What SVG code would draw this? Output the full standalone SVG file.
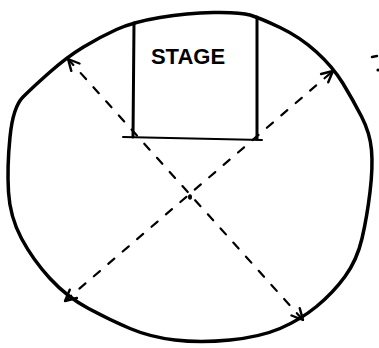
<svg xmlns="http://www.w3.org/2000/svg" width="379" height="348" viewBox="0 0 379 348">
<style>
.outline{fill:none;stroke:#000;stroke-width:3.5;stroke-linejoin:round;stroke-linecap:round}
.wall{fill:none;stroke:#000;stroke-width:3;stroke-linecap:round}
.floor{fill:none;stroke:#000;stroke-width:2;stroke-linecap:round}
.dash{fill:none;stroke:#000;stroke-width:2.2;stroke-dasharray:8 11;stroke-linecap:round}
.label{font-family:"Liberation Sans",Arial,sans-serif;font-weight:bold;font-size:22px;fill:#000}
</style>
<defs>
<marker id="arr" viewBox="0 0 14 14" refX="13" refY="7" markerWidth="14" markerHeight="14" markerUnits="userSpaceOnUse" orient="auto-start-reverse">
<path d="M2,1.5 L13,7 L2,12.5" fill="none" stroke="#000" stroke-width="2.4" stroke-linecap="round" stroke-linejoin="round"/>
</marker>
</defs>
<rect width="379" height="348" fill="#fff"/>
<g id="hall">
<path class="outline" d="M160,17.5 Q187,13 213.5,12.5 Q240,12 250,15 Q260,18 280,27.5 Q300,37 316.5,52 Q333,67 343,83.5 Q353,100 361.5,116.5 Q370,133 371.5,150 Q373,167 370,192 Q367,217 362,238.5 Q357,260 345,276.5 Q333,293 316.5,306.5 Q300,320 280,328.5 Q260,337 230,340 Q200,343 175,340 Q150,337 130,328.5 Q110,320 88.5,308.5 Q67,297 50,278.5 Q33,260 21.5,238.5 Q10,217 8.5,192 Q7,167 10,137 Q13,107 23,97 Q33,87 50,72 Q67,57 83.5,47 Q100,37 116.5,29.5 Q133,22 160,17.5 Z"/>
</g>
<g id="stage">
<path class="wall" d="M134,23 L133,137"/>
<path class="wall" d="M257,17 L257,139"/>
<path class="floor" d="M123,137 L262,140"/>
<text class="label" x="188" y="64" text-anchor="middle">STAGE</text>
</g>
<g id="connectors">
<line class="dash" x1="68" y1="59" x2="303" y2="320" marker-start="url(#arr)" marker-end="url(#arr)"/>
<line class="dash" x1="65" y1="301" x2="333" y2="71" marker-start="url(#arr)" marker-end="url(#arr)"/>
</g>
<g id="center">
<ellipse cx="190" cy="197" rx="2" ry="2.8" fill="#000"/>
</g>
<g id="marks">
<line x1="372" y1="57" x2="377" y2="56" stroke="#000" stroke-width="2.5" stroke-linecap="round"/>
<circle cx="378" cy="70" r="1.6" fill="#000"/>
</g>
</svg>
